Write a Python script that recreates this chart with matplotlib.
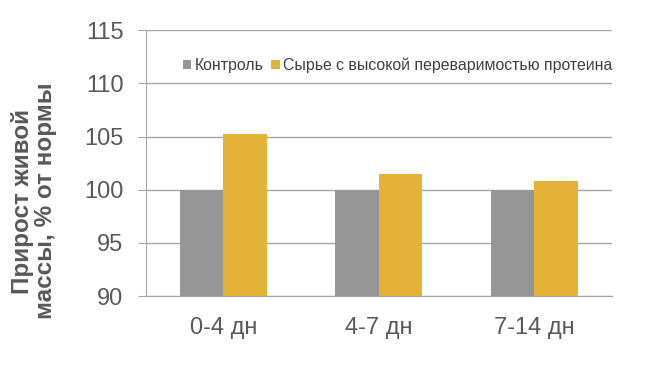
import numpy as np
import matplotlib.pyplot as plt

plt.rcParams['font.family'] = ['Liberation Sans', 'DejaVu Sans']

categories = ['0-4 дн', '4-7 дн', '7-14 дн']
control = [100, 100, 100]
high_digest = [105.2, 101.5, 100.8]
series_names = ['Контроль', 'Сырье с высокой переваримостью протеина']

fig = plt.figure(figsize=(6.45, 3.67), dpi=100)
ax = fig.add_axes([0.226, 0.193, 0.723, 0.725])

x = np.arange(len(categories))
w = 0.28
ax.bar(x - w / 2, control, w, color='#969696', label=series_names[0], zorder=3)
ax.bar(x + w / 2, high_digest, w, color='#E4B238', label=series_names[1], zorder=3)

ax.set_ylim(90, 115)
ax.set_yticks(range(90, 116, 5))
ax.set_xlim(-0.5, 2.5)
ax.set_xticks(x)
ax.set_xticklabels(categories)
ax.grid(axis='y', color='#A6A6A6', linewidth=1, zorder=0)
for s in ['top', 'right']:
    ax.spines[s].set_visible(False)
ax.spines['left'].set_color('#A6A6A6')
ax.spines['bottom'].set_color('#A6A6A6')
ax.tick_params(axis='y', length=6, color='#A6A6A6', labelsize=17, labelcolor='#595959', pad=10)
ax.tick_params(axis='x', length=0, labelsize=17, labelcolor='#595959', pad=15)

# подпись оси сдвинута вниз, как в оригинале
fig.text(0.053, 0.452, 'Прирост живой\nмассы, % от нормы', rotation=90, ha='center', va='center',
         multialignment='center', fontsize=17.5, fontweight='bold', color='#595959', linespacing=1.0)

leg = ax.legend(loc='upper center', bbox_to_anchor=(0.54, 0.95), ncol=2, frameon=False,
                fontsize=11.4, handlelength=0.55, handleheight=0.55, handletextpad=0.2,
                columnspacing=0.5, labelcolor='#404040')

fig.savefig('out.png', dpi=100)
